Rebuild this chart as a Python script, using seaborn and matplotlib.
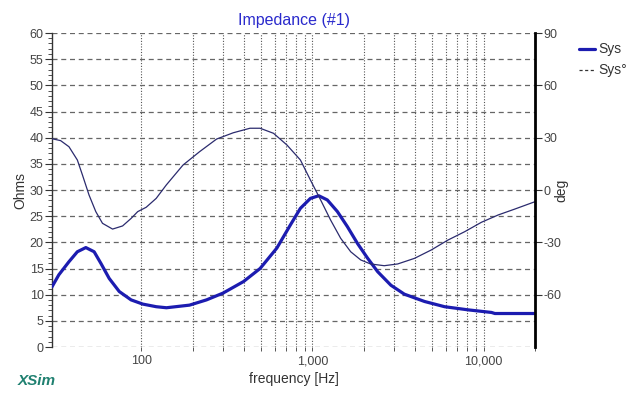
import numpy as np
import pandas as pd
import matplotlib
matplotlib.use("Agg")
import matplotlib.pyplot as plt
from matplotlib.ticker import FixedLocator, FuncFormatter, MultipleLocator, NullFormatter
from matplotlib.lines import Line2D
import seaborn as sns

# ---- data ----
imp_freq = [30, 32.9, 37.7, 42.2, 47.3, 52.9, 57.9, 64.8, 74.2, 87.0, 101.8, 122, 140, 191,
            240, 300, 395, 494, 619, 742, 850, 973, 1089, 1221, 1397, 1600, 1832, 2097,
            2404, 2875, 3444, 4518, 5920, 8121, 11140, 11650, 20000]
imp_ohm = [11.5, 13.8, 16.3, 18.2, 19.0, 18.2, 16.0, 13.1, 10.6, 9.0, 8.2, 7.7, 7.5, 8.0,
           9.0, 10.3, 12.5, 15.0, 18.9, 23.3, 26.5, 28.4, 28.9, 28.1, 25.9, 23.0, 19.8,
           17.0, 14.4, 11.8, 10.1, 8.7, 7.7, 7.1, 6.6, 6.4, 6.4]

ph_freq = [30, 33.7, 37.7, 42.2, 45.2, 49.4, 54.1, 59.2, 67.8, 77.6, 87.0, 95.1, 106.6, 122,
           139.8, 175, 219, 275, 344, 431, 494, 592, 709, 850, 973, 1116, 1276, 1462, 1673,
           1915, 2187, 2627, 3148, 3945, 4943, 6195, 7762, 9726, 12190, 15270, 20000]
ph_deg = [29.4, 28.3, 24.8, 17.2, 8.6, -2.9, -12.4, -19.1, -22.4, -20.6, -16.3, -12.4, -9.9,
          -4.8, 2.9, 14.3, 22.0, 29.2, 32.8, 35.4, 35.4, 32.5, 25.8, 17.2, 5.7, -5.7, -17.2,
          -27.7, -35.4, -40.1, -42.4, -43.4, -42.4, -39.2, -34.4, -28.7, -23.9, -18.5,
          -14.3, -10.9, -6.7]

x_major = [100, 1000, 10000]
x_major_labels = ["100", "1,000", "10,000"]
x_minor = [200, 300, 400, 500, 600, 700, 800, 900,
           2000, 3000, 4000, 5000, 6000, 7000, 8000, 9000, 20000]
left_ticks = list(range(0, 61, 5))
right_ticks = [90, 60, 30, 0, -30, -60]

title = "Impedance (#1)"
legend_labels = ["Sys", "Sys°"]

imp_df = pd.DataFrame({"freq": imp_freq, "ohm": imp_ohm})
ph_df = pd.DataFrame({"freq": ph_freq, "deg": ph_deg})

sns.set_theme(style="white")
plt.rcParams["font.family"] = ["Liberation Sans", "DejaVu Sans"]
plt.rcParams["axes.unicode_minus"] = False

fig = plt.figure(figsize=(6.4, 3.97), dpi=100)
ax = fig.add_axes([52 / 640, 1 - 347 / 397, (535 - 52) / 640, (347 - 33) / 397])
ax2 = ax.twinx()

imp_color = "#1c1cb0"
ph_color = "#2b2b6e"
tick_color = "#444444"

sns.lineplot(data=imp_df, x="freq", y="ohm", ax=ax, color=imp_color, lw=2.3, zorder=3)
sns.lineplot(data=ph_df, x="freq", y="deg", ax=ax2, color=ph_color, lw=0.9)

ax.set_xscale("log")
ax.set_xlim(30, 20000)
ax.set_ylim(0, 60)
ax2.set_ylim(-90, 90)

ax.xaxis.set_major_locator(FixedLocator(x_major))
ax.xaxis.set_major_formatter(FuncFormatter(
    lambda v, p: x_major_labels[x_major.index(int(round(v)))] if int(round(v)) in x_major else ""))
ax.xaxis.set_minor_locator(FixedLocator(x_minor))
ax.xaxis.set_minor_formatter(NullFormatter())

ax.yaxis.set_major_locator(FixedLocator(left_ticks))
ax.yaxis.set_minor_locator(MultipleLocator(1))
ax2.yaxis.set_major_locator(FixedLocator(right_ticks))

ax.grid(False)
ax2.grid(False)
ax.grid(True, which="both", axis="x", linestyle=(0, (1, 1.5)), color="#555555", lw=0.8)
ax.grid(True, which="major", axis="y", linestyle=(0, (4, 3)), color="#666666", lw=0.9)
ax.set_axisbelow(True)

for a in (ax, ax2):
    for s in ("top", "bottom", "left", "right"):
        a.spines[s].set_visible(False)
ax.spines["left"].set_visible(True)
ax.spines["left"].set_color("#333333")
ax.spines["left"].set_linewidth(1.0)
ax2.spines["right"].set_visible(True)
ax2.spines["right"].set_color("black")
ax2.spines["right"].set_linewidth(2.0)

ax.tick_params(axis="y", which="major", direction="out", length=5, width=0.8, color="#333333",
               labelsize=9, labelcolor=tick_color, pad=1, left=True)
ax.tick_params(axis="y", which="minor", direction="out", length=3, width=0.6, color="#333333", left=True)
ax.tick_params(axis="x", which="both", direction="out", length=3, width=0.7, color="#555555",
               labelsize=9, labelcolor=tick_color, pad=3, bottom=True)
ax2.tick_params(axis="y", which="major", direction="out", length=5, width=0.8, color="#333333",
                labelsize=9, labelcolor=tick_color, pad=1, right=True)

ax.set_xlabel("frequency [Hz]", fontsize=10, color="#333333", labelpad=3)
ax.set_ylabel("Ohms", fontsize=10, color="#333333", labelpad=2)
ax2.set_ylabel("deg", fontsize=10, color="#333333", labelpad=-5)
ax.set_title(title, fontsize=11.5, color="#2a2acc", pad=6)

handles = [Line2D([0], [0], color=imp_color, lw=2.3),
           Line2D([0], [0], color="#333333", lw=0.9, linestyle=(0, (2.5, 2)))]
fig.legend(handles, legend_labels, loc="upper left", bbox_to_anchor=(566 / 640, 1 - 30 / 397),
           frameon=False, fontsize=10, handlelength=1.2, handletextpad=0.2, labelspacing=0.5,
           labelcolor="#333333")

fig.text(18 / 640, 1 - 381 / 397, "XSim", fontsize=11, fontweight="bold", style="italic",
         color="#1f8070", va="center", ha="left")

fig.savefig("out.png", dpi=100)
